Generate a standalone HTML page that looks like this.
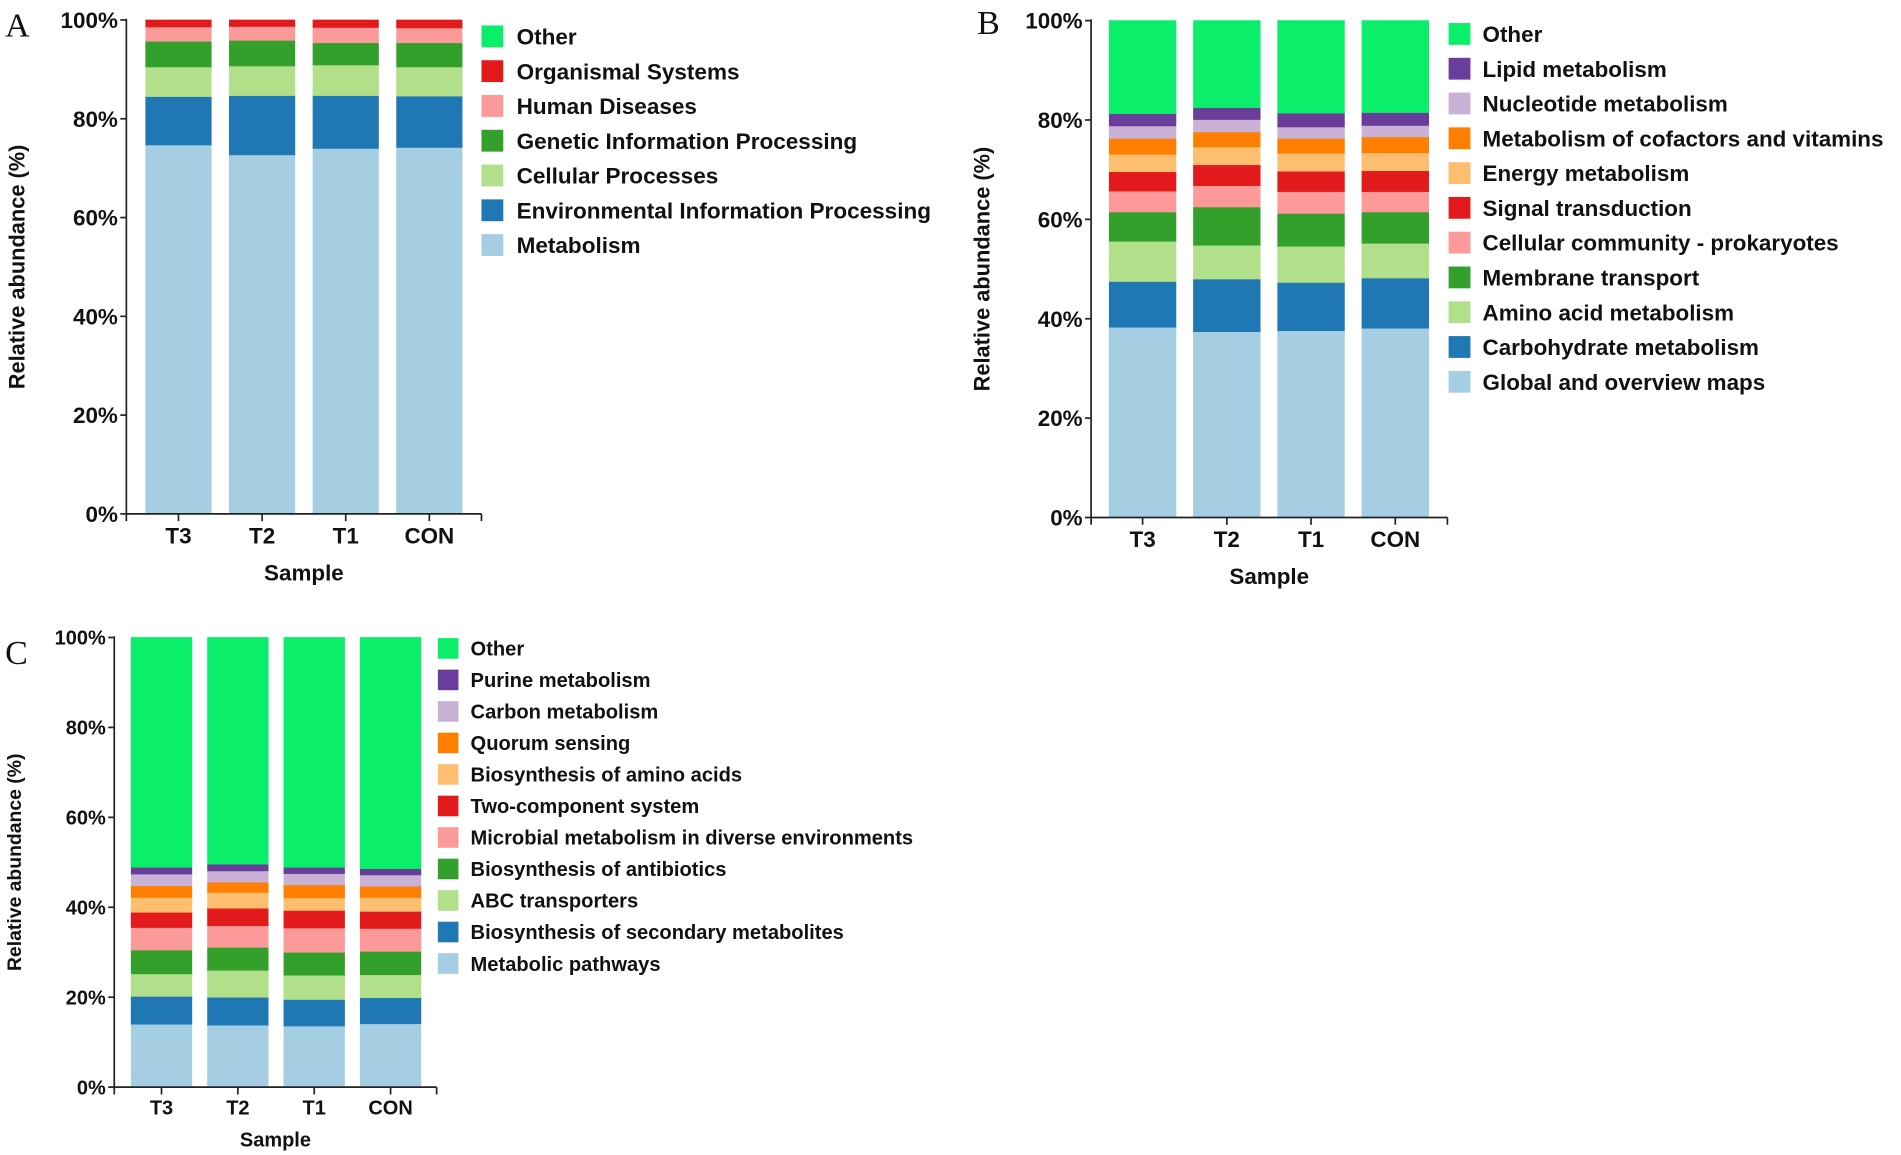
<!DOCTYPE html>
<html><head><meta charset="utf-8"><style>
html,body{margin:0;padding:0;background:#fff;}
svg{display:block;font-family:"Liberation Sans",Arial,sans-serif;}
</style></head><body>
<svg id="fig" width="1901" height="1155" viewBox="0 0 1568 953" xmlns="http://www.w3.org/2000/svg"></svg>
<script>
const categories = ["T3","T2","T1","CON"];
const yTicks = [0,20,40,60,80,100];
const yTickLabels = ["0%","20%","40%","60%","80%","100%"];

// Panel A (bottom -> top)
const seriesA = ["Metabolism","Environmental Information Processing","Cellular Processes","Genetic Information Processing","Human Diseases","Organismal Systems","Other"];
const colorsA = ["#a6cee3","#1f78b4","#b2df8a","#33a02c","#fb9a99","#e31a1c","#0bee6a"];
const metabolismA = [74.7,72.7,74.0,74.2];
const envInfoA = [9.8,12.0,10.7,10.4];
const cellularA = [6.0,6.0,6.2,5.9];
const geneticA = [5.2,5.2,4.5,4.9];
const humanA = [2.9,2.8,3.1,3.0];
const organismalA = [1.4,1.3,1.5,1.6];
const otherA = [0.0,0.0,0.0,0.0];

// Panel B
const seriesB = ["Global and overview maps","Carbohydrate metabolism","Amino acid metabolism","Membrane transport","Cellular community - prokaryotes","Signal transduction","Energy metabolism","Metabolism of cofactors and vitamins","Nucleotide metabolism","Lipid metabolism","Other"];
const colorsB = ["#a6cee3","#1f78b4","#b2df8a","#33a02c","#fb9a99","#e31a1c","#fdbf6f","#ff7f00","#cab2d6","#6a3d9a","#0bee6a"];
const globalB = [38.3,37.4,37.6,38.1];
const carbB = [9.2,10.6,9.7,10.1];
const aminoB = [8.1,6.8,7.3,7.0];
const membraneB = [5.9,7.7,6.6,6.3];
const cellCommB = [4.2,4.3,4.4,4.1];
const signalB = [3.9,4.2,4.1,4.2];
const energyB = [3.5,3.6,3.6,3.6];
const cofactorB = [3.2,3.0,3.0,3.2];
const nucleotideB = [2.5,2.5,2.3,2.3];
const lipidB = [2.5,2.4,2.8,2.6];
const otherB = [18.7,17.5,18.6,18.5];

// Panel C
const seriesC = ["Metabolic pathways","Biosynthesis of secondary metabolites","ABC transporters","Biosynthesis of antibiotics","Microbial metabolism in diverse environments","Two-component system","Biosynthesis of amino acids","Quorum sensing","Carbon metabolism","Purine metabolism","Other"];
const colorsC = colorsB;
const metabolicC = [14.0,13.8,13.6,14.1];
const secondaryC = [6.2,6.2,5.9,5.8];
const abcC = [5.0,6.0,5.4,5.1];
const antibioticsC = [5.3,5.1,5.1,5.2];
const microbialC = [5.0,4.8,5.4,5.1];
const twoCompC = [3.4,3.9,3.9,3.8];
const aminoAcidsC = [3.3,3.5,2.8,3.1];
const quorumC = [2.6,2.3,2.9,2.5];
const carbonC = [2.6,2.5,2.5,2.5];
const purineC = [1.5,1.5,1.4,1.4];
const otherC = [51.1,50.4,51.1,51.4];

const NS = "http://www.w3.org/2000/svg";
const svg = document.getElementById("fig");
function mk(tag, attrs, parent){const e=document.createElementNS(NS,tag);for(const k in attrs)e.setAttribute(k,attrs[k]);(parent||svg).appendChild(e);return e;}

function drawPanel(p){
  const g = mk("g",{});
  
  
  const y = v => p.y0 - (v/100)*(p.y0-p.y1);
  const bx = i => p.barX0 + i*p.step;
  const L = mk("text",{x:p.letterX,y:p.letterY,"font-family":"Liberation Serif,serif","font-size":p.letterSize,fill:"#111"},g);
  L.textContent = p.letter;
  
  
  categories.forEach((c,i)=>{
    let acc = 0;
    p.data.forEach((arr,s)=>{
      const v = arr[i];
      if (v<=0) { return; }
      const r = mk("rect",{x:bx(i),y:y(acc+v),width:p.bw,height:y(acc)-y(acc+v),fill:p.colors[s],stroke:p.colors[s],"stroke-width":0.6},g);
      
      
      acc += v;
    });
  });
  const ya = mk("line",{x1:p.ax,y1:p.y1-1,x2:p.ax,y2:p.y0,stroke:"#222","stroke-width":1.4},g);
  
  
  const xa = mk("line",{x1:p.ax,y1:p.y0,x2:p.axEnd,y2:p.y0,stroke:"#222","stroke-width":1.4},g);
  
  
  mk("line",{x1:p.ax,y1:p.y0,x2:p.ax,y2:p.y0+6,stroke:"#222","stroke-width":1.4},g);
  mk("line",{x1:p.axEnd,y1:p.y0,x2:p.axEnd,y2:p.y0+6,stroke:"#222","stroke-width":1.4},g);
  yTicks.forEach((t,k)=>{
    mk("line",{x1:p.ax-5,y1:y(t),x2:p.ax,y2:y(t),stroke:"#222","stroke-width":1.4},g);
    const tl = mk("text",{x:p.ax-7,y:y(t)+p.tickSize*0.36,"text-anchor":"end","font-size":p.tickSize,"font-weight":"bold",fill:"#111"},g);
    tl.textContent = yTickLabels[k];
    
    
  });
  categories.forEach((c,i)=>{
    const cx = bx(i)+p.bw/2;
    mk("line",{x1:cx,y1:p.y0,x2:cx,y2:p.y0+6,stroke:"#222","stroke-width":1.4},g);
    const t = mk("text",{x:cx,y:p.y0+p.tickSize+6,"text-anchor":"middle","font-size":p.tickSize,"font-weight":"bold",fill:"#111"},g);
    t.textContent = c;
    
    
  });
  const xt = mk("text",{x:(p.ax+p.axEnd)/2,y:p.sampleY,"text-anchor":"middle","font-size":p.tickSize,"font-weight":"bold",fill:"#111"},g);
  xt.textContent = "Sample";
  
  
  const ymid = (p.y0+p.y1)/2;
  const yt = mk("text",{x:p.ytX,y:ymid,"text-anchor":"middle","font-size":p.ytSize,"font-weight":"bold",fill:"#111",transform:"rotate(-90 "+p.ytX+" "+ymid+")"},g);
  yt.textContent = "Relative abundance (%)";
  
  
  const n = p.series.length;
  for (let k=0;k<n;k++){
    const s = n-1-k;
    const cy = p.legY0 + k*p.legStep;
    const e = mk("g",{},g);
    
    
    mk("rect",{x:p.legX,y:cy-p.sw/2,width:p.sw,height:p.sw,fill:p.colors[s]},e);
    const t = mk("text",{x:p.legTX,y:cy+p.legSize*0.36,"font-size":p.legSize,"font-weight":"bold",fill:"#111"},e);
    t.textContent = p.series[s];
  }
}

drawPanel({id:"panel-a",letter:"A",letterX:4,letterY:30,letterSize:28,
  data:[metabolismA,envInfoA,cellularA,geneticA,humanA,organismalA,otherA],series:seriesA,colors:colorsA,
  ax:104,axEnd:397,y0:424,y1:16.5,barX0:120,step:69,bw:54,tickSize:18.5,sampleY:479,ytX:20,ytSize:18,
  legX:397,legTX:426,legY0:30,legStep:28.7,sw:18,legSize:18.6});
drawPanel({id:"panel-b",letter:"B",letterX:806,letterY:28,letterSize:28,
  data:[globalB,carbB,aminoB,membraneB,cellCommB,signalB,energyB,cofactorB,nucleotideB,lipidB,otherB],series:seriesB,colors:colorsB,
  ax:900,axEnd:1194,y0:427,y1:17,barX0:915,step:69.5,bw:55,tickSize:18.5,sampleY:482,ytX:816,ytSize:18,
  legX:1195,legTX:1223,legY0:28,legStep:28.7,sw:18,legSize:18.5});
drawPanel({id:"panel-c",letter:"C",letterX:4,letterY:548,letterSize:28,
  data:[metabolicC,secondaryC,abcC,antibioticsC,microbialC,twoCompC,aminoAcidsC,quorumC,carbonC,purineC,otherC],series:seriesC,colors:colorsC,
  ax:94,axEnd:360,y0:897,y1:526,barX0:108,step:63,bw:50,tickSize:16.5,sampleY:946,ytX:17,ytSize:16,
  legX:361,legTX:388,legY0:535,legStep:26,sw:17,legSize:16.6});
</script>
</body></html>
